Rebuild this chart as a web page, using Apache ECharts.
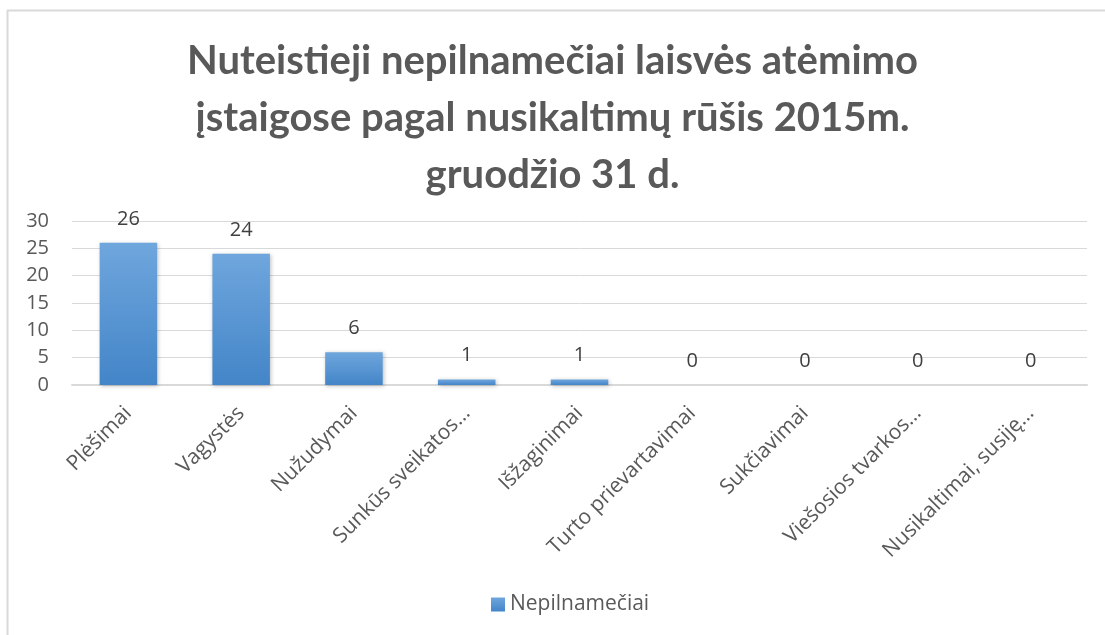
<!DOCTYPE html>
<html>
<head>
<meta charset="utf-8">
<script src="https://cdn.jsdelivr.net/npm/echarts@6/dist/echarts.min.js"></script>
<style>
  html, body { margin: 0; padding: 0; background: #fff; }
  #chart { width: 1105px; height: 635px; }
</style>
</head>
<body>
<div id="chart"></div>
<script>
// nusikaltimų rūšys
const categories = ['Plėšimai', 'Vagystės', 'Nužudymai', 'Sunkūs sveikatos…', 'Išžaginimai',
  'Turto prievartavimai', 'Sukčiavimai', 'Viešosios tvarkos…', 'Nusikaltimai, susiję…'];
const values = [26, 24, 6, 1, 1, 0, 0, 0, 0];
const yTicks = [0, 5, 10, 15, 20, 25, 30];
const seriesName = 'Nepilnamečiai';
const titleText = 'Nuteistieji nepilnamečiai laisvės atėmimo\nįstaigose pagal nusikaltimų rūšis 2015m.\ngruodžio 31 d.';

const chart = echarts.init(document.getElementById('chart'));
const barColor = new echarts.graphic.LinearGradient(0, 0, 0, 1, [
  { offset: 0, color: '#6fa6dd' },
  { offset: 1, color: '#4385c8' }
]);
const font = 'Open Sans';

chart.setOption({
  animation: false,
  title: {
    text: titleText,
    left: 'center',
    top: 28,
    textStyle: {
      fontFamily: 'Lato',
      fontSize: 40,
      fontWeight: 'bold',
      color: '#595959',
      lineHeight: 57
    }
  },
  // chart frame (Excel style)
  graphic: [
    { type: 'line', shape: { x1: 7.5, y1: 10, x2: 7.5, y2: 635 }, style: { stroke: '#d9d9d9', lineWidth: 2 } },
    { type: 'line', shape: { x1: 7, y1: 10.5, x2: 1105, y2: 10.5 }, style: { stroke: '#d9d9d9', lineWidth: 2 } }
  ],
  grid: { left: 72, right: 18, top: 221, bottom: 250 },
  legend: {
    data: [seriesName],
    left: 486,
    top: 589,
    icon: 'rect',
    itemWidth: 14,
    itemHeight: 14,
    itemGap: 6,
    textStyle: { fontFamily: font, fontSize: 21, color: '#595959' }
  },
  xAxis: {
    type: 'category',
    data: categories,
    axisLine: { lineStyle: { color: '#d9d9d9', width: 2 } },
    axisTick: { show: false },
    axisLabel: {
      rotate: 45,
      interval: 0,
      fontFamily: font,
      fontSize: 21,
      color: '#595959',
      margin: 25
    }
  },
  yAxis: {
    type: 'value',
    min: yTicks[0],
    max: yTicks[yTicks.length - 1],
    interval: yTicks[1] - yTicks[0],
    axisLine: { show: false },
    axisTick: { show: false },
    axisLabel: { fontFamily: font, fontSize: 20, color: '#595959', margin: 23 },
    splitLine: { lineStyle: { color: '#d9d9d9', width: 1 } }
  },
  series: [{
    name: seriesName,
    type: 'bar',
    data: values,
    barWidth: '51%',
    itemStyle: {
      color: barColor,
      shadowColor: 'rgba(0,0,0,0.25)',
      shadowBlur: 4,
      shadowOffsetX: 1,
      shadowOffsetY: 1
    },
    label: {
      show: true,
      position: 'top',
      distance: 14,
      fontFamily: font,
      fontSize: 20,
      color: '#404040'
    }
  }]
});
</script>
</body>
</html>
